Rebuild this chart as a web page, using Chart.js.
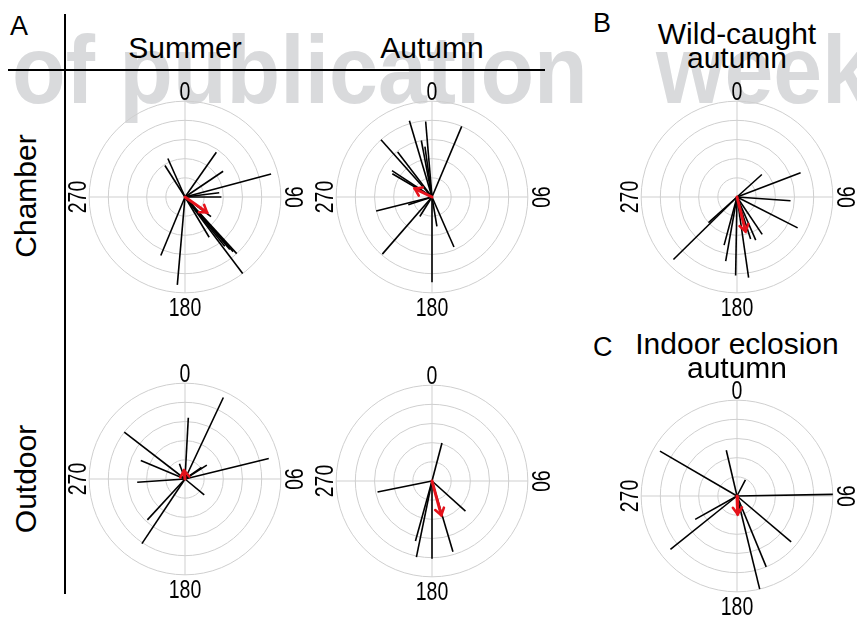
<!DOCTYPE html>
<html>
<head>
<meta charset="utf-8">
<script src="https://cdn.jsdelivr.net/npm/chart.js@4.4.0/dist/chart.umd.min.js"></script>
<style>
html,body{margin:0;padding:0;background:#fff;}
#page{position:relative;width:857px;height:621px;overflow:hidden;font-family:"Liberation Sans",Arial,sans-serif;color:#000;}
.t{position:absolute;white-space:nowrap;}
canvas{position:absolute;z-index:2;}
.wm{position:absolute;z-index:0;left:12px;top:22px;font-weight:bold;font-size:96px;line-height:96px;color:#d9dadc;white-space:nowrap;transform:scaleX(0.915);transform-origin:0 0;}
.wm span{margin-left:48px;}
.tick{position:absolute;z-index:3;font-size:25px;line-height:25px;white-space:nowrap;}
.title{position:absolute;z-index:3;font-size:30px;line-height:24px;text-align:center;white-space:nowrap;}
.line{position:absolute;z-index:3;background:#000;}
</style>
</head>
<body>
<div id="page"></div>
<script>
// ---------- data (angles in degrees clockwise from north, lengths relative to outer ring) ----------
const tickLabels = ['0', '90', '180', '270'];
const columnTitles = ['Summer', 'Autumn'];
const rowTitles = ['Chamber', 'Outdoor'];
const panelLetters = ['A', 'B', 'C'];
const wildTitle = ['Wild-caught', 'autumn'];
const indoorTitle = ['Indoor eclosion', 'autumn'];
const watermarkWords = ['of publication', 'week'];

const chamberSummerAngles  = [35, 56, 75, 83, 90, 127, 137.6, 138.6, 139.5, 141, 143, 149, 185, 202.5, 336, 327.5];
const chamberSummerLengths = [0.57, 0.48, 0.93, 0.36, 0.38, 0.34, 0.80, 0.76, 0.72, 0.66, 1.0, 0.49, 0.92, 0.66, 0.44, 0.39];
const chamberSummerMean    = [125, 0.28];

const chamberAutumnAngles  = [343.5, 355.2, 22.8, 318.3, 349.3, 352, 322.6, 303.4, 300.4, 256, 252, 212, 221, 180, 170.5, 156.3];
const chamberAutumnLengths = [0.83, 0.79, 0.80, 0.80, 0.60, 0.53, 0.59, 0.50, 0.48, 0.60, 0.26, 0.24, 0.79, 0.89, 0.31, 0.57];
const chamberAutumnMean    = [296, 0.20];

const wildAutumnAngles  = [47.8, 69.2, 94, 117, 146, 156.5, 162, 171.8, 181, 190, 195, 225.5, 228];
const wildAutumnLengths = [0.35, 0.71, 0.56, 0.71, 0.47, 0.49, 0.46, 0.85, 0.82, 0.68, 0.52, 0.93, 0.40];
const wildAutumnMean    = [166, 0.37];

const outdoorSummerAngles  = [25.2, 3.1, 76.2, 57.5, 55, 340, 307.6, 292.7, 266.2, 222.6, 213.7, 129.5];
const outdoorSummerLengths = [0.94, 0.64, 0.90, 0.27, 0.21, 0.17, 0.80, 0.50, 0.50, 0.58, 0.81, 0.26];
const outdoorSummerMean    = [354, 0.09];

const outdoorAutumnAngles  = [14.7, 258.6, 132, 163.5, 180, 191.6, 195.4];
const outdoorAutumnLengths = [0.41, 0.58, 0.47, 0.77, 0.81, 0.81, 0.65];
const outdoorAutumnMean    = [164.8, 0.37];

const indoorAutumnAngles  = [27.5, 346.8, 300.2, 89, 130.2, 157.6, 166.3, 240.8, 231.3];
const indoorAutumnLengths = [0.19, 0.49, 0.93, 1.0, 0.74, 0.80, 1.0, 0.50, 0.89];
const indoorAutumnMean    = [178, 0.19];

const ringLevels = [0.2, 0.4, 0.6, 0.8, 1.0];

// ---------- layout ----------
const page = document.getElementById('page');
function addDiv(cls, text, css) {
  const d = document.createElement('div');
  d.className = cls;
  d.textContent = text;
  Object.assign(d.style, css);
  page.appendChild(d);
  return d;
}

const wm = addDiv('wm', watermarkWords[0], {});
const wmSpan = document.createElement('span');
wmSpan.textContent = watermarkWords[1];
wm.appendChild(document.createTextNode(' '));
wm.appendChild(wmSpan);

// axis lines of the panel A grid
addDiv('line', '', {left: '63.5px', top: '14px', width: '2px', height: '580px'});
addDiv('line', '', {left: '8px', top: '68.5px', width: '537px', height: '2px'});

// panel letters
addDiv('t', panelLetters[0], {left: '10px', top: '13px', fontSize: '27px', lineHeight: '27px'});
addDiv('t', panelLetters[1], {left: '593px', top: '10px', fontSize: '27px', lineHeight: '27px'});
addDiv('t', panelLetters[2], {left: '593px', top: '334px', fontSize: '27px', lineHeight: '27px'});

// column / panel titles (baseline-ish placement)
function title(text, cx, baseline) {
  return addDiv('title', text, {left: (cx - 150) + 'px', width: '300px', top: (baseline - 21) + 'px'});
}
title(columnTitles[0], 185, 57);
title(columnTitles[1], 432, 57);
title(wildTitle[0], 737, 43);
title(wildTitle[1], 737, 67);
title(indoorTitle[0], 737, 353);
title(indoorTitle[1], 737, 377);

// row titles
function rowTitle(text, cy) {
  addDiv('t', text, {left: '26px', top: cy + 'px', fontSize: '30px', lineHeight: '30px',
    transform: 'translate(-50%,-50%) rotate(-90deg)', zIndex: 3});
}
rowTitle(rowTitles[0], 196);
rowTitle(rowTitles[1], 479);

// ---------- chart plugins ----------
const polarGrid = {
  id: 'polarGrid',
  beforeDatasetsDraw(chart) {
    const {ctx, scales: {x, y}} = chart;
    const cx = x.getPixelForValue(0), cy = y.getPixelForValue(0);
    ctx.save();
    ctx.strokeStyle = '#cfcfcf';
    ctx.lineWidth = 1;
    ringLevels.forEach(r => {
      const rp = x.getPixelForValue(r) - cx;
      ctx.beginPath();
      ctx.arc(cx, cy, rp, 0, Math.PI * 2);
      ctx.stroke();
    });
    const outer = ringLevels[ringLevels.length - 1];
    ctx.beginPath();
    ctx.moveTo(x.getPixelForValue(-outer), cy);
    ctx.lineTo(x.getPixelForValue(outer), cy);
    ctx.moveTo(cx, y.getPixelForValue(outer));
    ctx.lineTo(cx, y.getPixelForValue(-outer));
    ctx.stroke();
    ctx.restore();
  }
};
const arrowHead = {
  id: 'arrowHead',
  afterDatasetsDraw(chart) {
    const {ctx} = chart;
    chart.data.datasets.forEach((ds, i) => {
      if (!ds.isMean) return;
      const pts = chart.getDatasetMeta(i).data;
      const p0 = pts[0], p1 = pts[1];
      const ang = Math.atan2(p1.y - p0.y, p1.x - p0.x);
      const L = 8, spread = 0.6;
      ctx.save();
      ctx.strokeStyle = ds.borderColor;
      ctx.lineWidth = 2.6;
      ctx.lineCap = 'round';
      ctx.beginPath();
      ctx.moveTo(p1.x - L * Math.cos(ang - spread), p1.y - L * Math.sin(ang - spread));
      ctx.lineTo(p1.x, p1.y);
      ctx.lineTo(p1.x - L * Math.cos(ang + spread), p1.y - L * Math.sin(ang + spread));
      ctx.stroke();
      ctx.restore();
    });
  }
};

function toXY(angleDeg, len) {
  const a = angleDeg * Math.PI / 180;
  return {x: len * Math.sin(a), y: len * Math.cos(a)};
}

function makePanel(cx, cy, angles, lengths, mean) {
  const size = 230, R = 1.2;
  const cv = document.createElement('canvas');
  cv.width = size; cv.height = size;
  cv.style.left = (cx - size / 2) + 'px';
  cv.style.top = (cy - size / 2) + 'px';
  page.appendChild(cv);
  const datasets = angles.map((a, i) => ({
    data: [{x: 0, y: 0}, toXY(a, lengths[i])],
    showLine: true, borderColor: '#000', borderWidth: 1.6, pointRadius: 0, order: 1
  }));
  datasets.push({
    data: [{x: 0, y: 0}, toXY(mean[0], mean[1])],
    showLine: true, borderColor: '#e5121b', borderWidth: 3, pointRadius: 0, order: 0, isMean: true,
    borderCapStyle: 'round'
  });
  new Chart(cv, {
    type: 'scatter',
    data: {datasets},
    options: {
      responsive: false, animation: false, events: [],
      layout: {padding: 0},
      plugins: {legend: {display: false}, tooltip: {enabled: false}},
      scales: {
        x: {type: 'linear', min: -R, max: R, display: false},
        y: {type: 'linear', min: -R, max: R, display: false}
      }
    },
    plugins: [polarGrid, arrowHead]
  });
  // direction labels
  const pos = [[cx, cy - 106, 0], [cx + 108, cy, 90], [cx, cy + 110, 0], [cx - 108, cy, -90]];
  tickLabels.forEach((t, i) => {
    addDiv('tick', t, {left: pos[i][0] + 'px', top: pos[i][1] + 'px',
      transform: 'translate(-50%,-50%) rotate(' + pos[i][2] + 'deg) scaleX(0.78)'});
  });
}

makePanel(185, 197, chamberSummerAngles, chamberSummerLengths, chamberSummerMean);
makePanel(432, 197, chamberAutumnAngles, chamberAutumnLengths, chamberAutumnMean);
makePanel(737, 197, wildAutumnAngles, wildAutumnLengths, wildAutumnMean);
makePanel(185, 479, outdoorSummerAngles, outdoorSummerLengths, outdoorSummerMean);
makePanel(432, 481, outdoorAutumnAngles, outdoorAutumnLengths, outdoorAutumnMean);
makePanel(737, 496, indoorAutumnAngles, indoorAutumnLengths, indoorAutumnMean);
</script>
</body>
</html>
